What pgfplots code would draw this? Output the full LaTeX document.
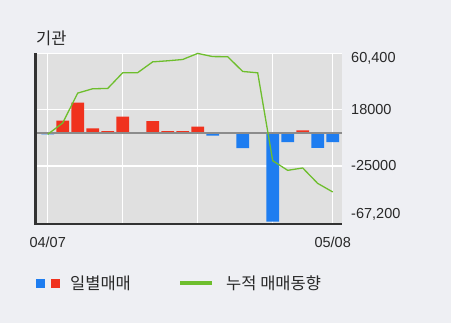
\documentclass[border=0pt]{standalone}
\usepackage{pgfplots}
\pgfplotsset{compat=1.18}
\usepackage{fontspec}
\setmainfont{Liberation Sans}
\newfontfamily\kr{Noto Sans CJK KR}
\definecolor{bg}{RGB}{238,239,243}
\definecolor{plotbg}{RGB}{224,224,224}
\definecolor{rbar}{RGB}{240,50,30}
\definecolor{bbar}{RGB}{30,125,240}
\definecolor{gline}{RGB}{110,190,45}
\definecolor{axdark}{RGB}{50,50,50}
\definecolor{zline}{RGB}{140,140,140}
\definecolor{txt}{RGB}{40,40,40}
\begin{document}
\begin{tikzpicture}
\fill[bg] (0,0) rectangle (451pt,323pt);
\useasboundingbox (0,0) rectangle (451pt,323pt);
\node[anchor=west, inner sep=0pt, font=\kr\fontsize{16.5}{18}\selectfont, text=txt] at (36pt,285pt) {기관};
\begin{axis}[at={(35.7pt,99pt)}, anchor=south west, width=306pt, height=170.7pt, scale only axis,
  xmin=-0.8, xmax=19.6, ymin=-69000, ymax=60500,
  scaled y ticks=false,
  axis background/.style={fill=plotbg},
  axis line style={draw=none},
  major tick length=0pt,
  /pgf/number format/assume math mode=true,
  xtick={0,5,10,15,19}, xticklabels={04/07,,,,05/08},
  xmajorgrids, major grid style={white, line width=1.3pt},
  ytick={-61800,-25000,18000,56950},
  yticklabels={{-67,200},-25000,18000,{60,400}},
  yticklabel pos=right,
  extra y ticks={-25000,18000,60400},
  extra y tick labels={},
  extra y tick style={grid=major, major grid style={white, line width=1.3pt}},
  ticklabel style={font=\fontsize{14.5}{16}\selectfont, text=txt},
  yticklabel style={anchor=west, xshift=6pt},
  xticklabel style={yshift=-9pt},
  clip=false,
]
\addplot[ybar, bar width=12.7pt, bar shift=0pt, fill=rbar, draw=none] coordinates {
  (1,9500) (2,23000) (3,3500) (4,1500) (5,12500) (7,9000) (8,1500) (9,1500) (10,4800) (17,2000)};
\addplot[ybar, bar width=12.7pt, bar shift=0pt, fill=bbar, draw=none] coordinates {
  (0,-1000) (11,-2000) (13,-11500) (15,-67200) (16,-6800) (18,-11300) (19,-6800)};
\draw[zline, line width=2pt] (axis cs:-0.8,0) -- (axis cs:19.6,0);
\addplot[gline, line width=1.3pt, mark=none] coordinates {
  (0,-1000) (1,7600) (2,30300) (3,33600) (4,33800) (5,45700) (6,45800) (7,54000) (8,54800) (9,55800)
  (10,60400) (11,58000) (12,57900) (13,46700) (14,45700) (15,-21000) (16,-28300) (17,-26500) (18,-38200) (19,-44700)};
\draw[axdark, line width=2.5pt] (rel axis cs:0,1) -- (rel axis cs:0,0) -- (rel axis cs:1,0);
\end{axis}
\fill[bbar] (36pt,35pt) rectangle (45pt,44pt);
\fill[rbar] (51pt,35pt) rectangle (60pt,44pt);
\node[anchor=west, inner sep=0pt, font=\kr\fontsize{16.5}{18}\selectfont, text=txt] at (70pt,40pt) {일별매매};
\draw[gline, line width=4pt] (180pt,40pt) -- (212pt,40pt);
\node[anchor=west, inner sep=0pt, font=\kr\fontsize{16.5}{18}\selectfont, text=txt] at (226pt,40pt) {누적 매매동향};
\end{tikzpicture}
\end{document}
